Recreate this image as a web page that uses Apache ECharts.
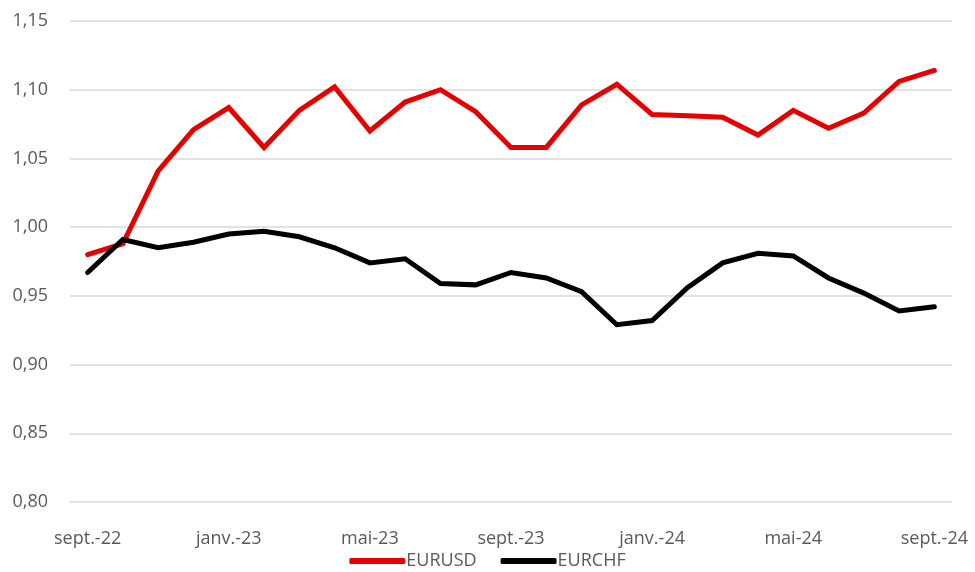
<!DOCTYPE html>
<html>
<head>
<meta charset="utf-8">
<script src="https://cdn.jsdelivr.net/npm/echarts@6/dist/echarts.min.js"></script>
<style>
html, body { margin: 0; padding: 0; background: #fff; }
#chart { width: 975px; height: 572px; }
</style>
</head>
<body>
<div id="chart"></div>
<script>
var months = ['sept.-22', 'oct.-22', 'nov.-22', 'déc.-22', 'janv.-23', 'févr.-23', 'mars-23', 'avr.-23',
  'mai-23', 'juin-23', 'juil.-23', 'août-23', 'sept.-23', 'oct.-23', 'nov.-23', 'déc.-23',
  'janv.-24', 'févr.-24', 'mars-24', 'avr.-24', 'mai-24', 'juin-24', 'juil.-24', 'août-24', 'sept.-24'];
var eurusd = [0.980, 0.988, 1.041, 1.071, 1.087, 1.058, 1.085, 1.102, 1.070, 1.091, 1.100, 1.084, 1.058,
  1.058, 1.089, 1.104, 1.082, 1.081, 1.080, 1.067, 1.085, 1.072, 1.083, 1.106, 1.114];
var eurchf = [0.967, 0.991, 0.985, 0.989, 0.995, 0.997, 0.993, 0.985, 0.974, 0.977, 0.959, 0.958, 0.967,
  0.963, 0.953, 0.929, 0.932, 0.956, 0.974, 0.981, 0.979, 0.963, 0.952, 0.939, 0.942];

var font = "'Segoe UI', 'Open Sans', sans-serif";
var myChart = echarts.init(document.getElementById('chart'));
var option = {
    animation: false,
    grid: {
        left: 70,
        right: 23,
        top: 21,
        bottom: 70
    },
    legend: {
        bottom: -3,
        left: 'center',
        itemWidth: 56,
        itemHeight: 6,
        itemGap: 24,
        icon: 'roundRect',
        textStyle: { fontFamily: font, fontSize: 18, color: '#595959', padding: [0, 0, 0, -4] },
        data: ['EURUSD', 'EURCHF']
    },
    xAxis: {
        type: 'category',
        data: months,
        boundaryGap: true,
        axisLine: { show: false },
        axisTick: { show: false },
        axisLabel: {
            interval: 3,
            margin: 28,
            fontFamily: font,
            fontSize: 18,
            color: '#595959'
        }
    },
    yAxis: {
        type: 'value',
        min: 0.80,
        max: 1.15,
        interval: 0.05,
        axisLine: { show: false },
        axisTick: { show: false },
        splitLine: { lineStyle: { color: '#d9d9d9', width: 1.5 } },
        axisLabel: {
            margin: 22,
            fontFamily: font,
            fontSize: 18,
            color: '#595959',
            formatter: function (v) { return v.toFixed(2).replace('.', ','); }
        }
    },
    series: [{
        name: 'EURUSD',
        type: 'line',
        data: eurusd,
        symbol: 'none',
        itemStyle: { color: '#e60000' },
        lineStyle: { color: '#e60000', width: 5, cap: 'round', join: 'miter' }
    }, {
        name: 'EURCHF',
        type: 'line',
        data: eurchf,
        symbol: 'none',
        itemStyle: { color: '#000000' },
        lineStyle: { color: '#000000', width: 5, cap: 'round', join: 'miter' }
    }]
};
myChart.setOption(option);
</script>
</body>
</html>
